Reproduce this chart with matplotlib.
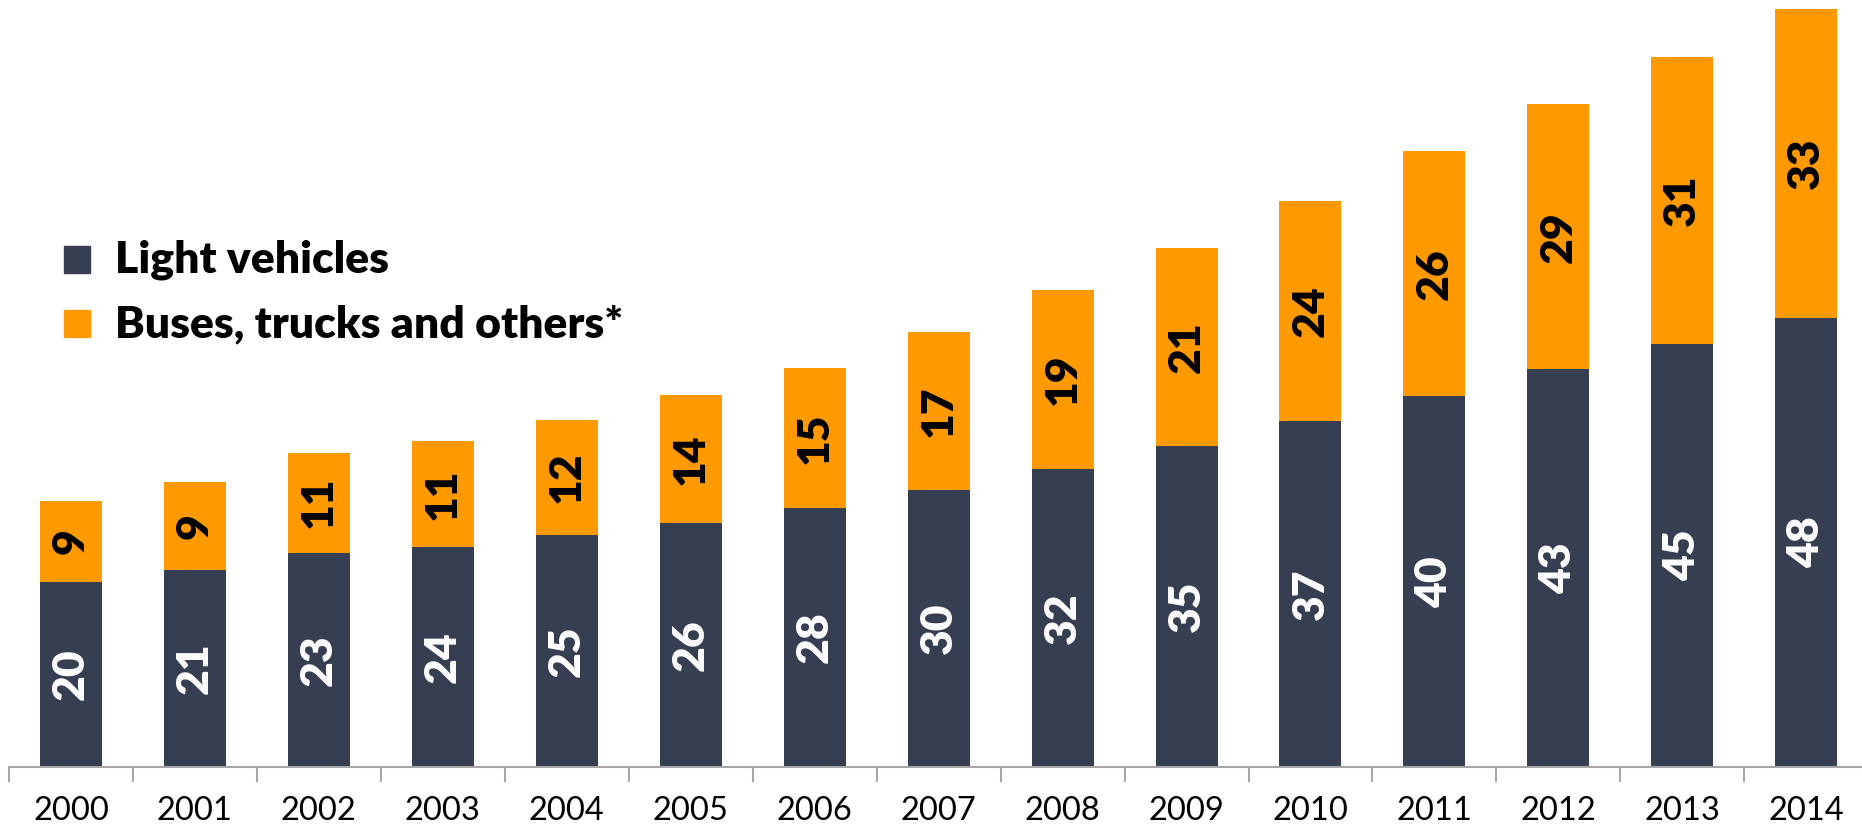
import numpy as np
import matplotlib.pyplot as plt
from matplotlib.patches import Rectangle

plt.rcParams['font.family'] = ['Lato', 'DejaVu Sans']

years = [str(y) for y in range(2000, 2015)]
# bar heights
light = [19.8, 21.1, 22.9, 23.5, 24.8, 26.1, 27.7, 29.6, 31.8, 34.3, 37.0, 39.6, 42.5, 45.2, 48.0]
heavy = [8.6, 9.4, 10.7, 11.3, 12.3, 13.6, 14.9, 16.9, 19.2, 21.2, 23.5, 26.2, 28.3, 30.7, 33.0]
# printed labels
light_lbl = [20, 21, 23, 24, 25, 26, 28, 30, 32, 35, 37, 40, 43, 45, 48]
heavy_lbl = [9, 9, 11, 11, 12, 14, 15, 17, 19, 21, 24, 26, 29, 31, 33]

dark = '#353F51'
orange = '#FF9900'

W, H = 1862, 832
fig = plt.figure(figsize=(W / 100, H / 100), dpi=100)
# axis line sits at y=767px, category slots are ~124px wide starting at x=9
ax = fig.add_axes([9 / W, (H - 767) / H, 15 * 123.95 / W, 767 / H])

x = np.arange(len(years))
ax.bar(x, light, width=0.5, color=dark)
ax.bar(x, heavy, width=0.5, bottom=light, color=orange)

for xi, lv, hv, ll, hl in zip(x, light, heavy, light_lbl, heavy_lbl):
    ax.text(xi, lv / 2, str(ll), rotation=90, ha='center', va='center',
            color='white', fontsize=32, fontweight='heavy')
    ax.text(xi, lv + hv / 2, str(hl), rotation=90, ha='center', va='center',
            color='black', fontsize=32, fontweight='heavy')

ax.set_xlim(-0.5, len(years) - 0.5)
ax.set_ylim(0, 81 * 767 / 758)

for s in ['top', 'right', 'left']:
    ax.spines[s].set_visible(False)
ax.spines['bottom'].set_color('#A6A6A6')
ax.spines['bottom'].set_linewidth(1.5)
ax.set_yticks([])

ax.set_xticks(x)
ax.set_xticklabels(years, fontsize=23.5)
ax.tick_params(axis='x', which='major', length=0, pad=21)
ax.set_xticks(np.arange(-0.5, len(years)), minor=True)
ax.tick_params(axis='x', which='minor', length=11, width=1.5, color='#A6A6A6')

# legend drawn as squares + text in figure pixels
for (y0, col, lab) in [(246, dark, 'Light vehicles'),
                       (310, orange, 'Buses, trucks and others*')]:
    fig.patches.append(Rectangle((64 / W, (H - y0 - 27) / H), 26 / W, 27 / H,
                                 transform=fig.transFigure, color=col))
    fig.text(115 / W, (H - y0 - 14) / H, lab, fontsize=32, fontweight='heavy',
             va='center', ha='left')

fig.savefig('out.png', dpi=100)
